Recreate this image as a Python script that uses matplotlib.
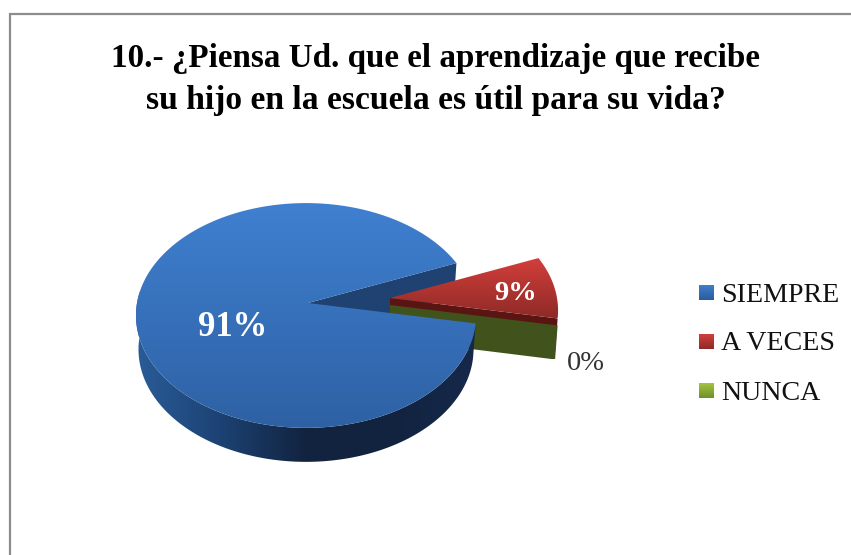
import numpy as np
import matplotlib
matplotlib.use("Agg")
import matplotlib.pyplot as plt
from matplotlib.colors import LinearSegmentedColormap
from matplotlib.patches import Polygon

plt.rcParams["font.family"] = ["Liberation Serif", "DejaVu Serif"]

title = "10.- ¿Piensa Ud. que el aprendizaje que recibe\nsu hijo en la escuela es útil para su vida?"
categories = ["SIEMPRE", "A VECES", "NUNCA"]
values = [91, 9, 0]

# pie geometry, in pixels of the 851x555 picture
ex, cy = 306, 303  # ellipse centre
apex_x = 308
rx, ry, persp = 169, 111, 0.111
depth, shrink = 34, 0.985
first_angle = 100.4
explode_red = (82, -5)
explode_green = (82, 2)

fig = plt.figure(figsize=(8.51, 5.55), dpi=100)
ax = fig.add_axes([0, 0, 1, 1])
ax.set_xlim(0, 851)
ax.set_ylim(555, 0)
ax.axis("off")


def rim(theta, off=(0, 0), drop=False):
    # perspective projection of a point on the pie rim, theta clockwise from top
    t = np.radians(theta)
    u, v = np.sin(t), np.cos(t)
    w = 1 + persp * v
    x, y = rx * u / w, -ry * v / w
    if drop:
        return ex + off[0] + x * shrink, cy + off[1] + y + depth
    return ex + off[0] + x, cy + off[1] + y


def arc(a0, a1, off=(0, 0), drop=False):
    th = np.linspace(a0, a1, 200)
    x, y = rim(th, off, drop)
    return np.column_stack([x, y])


def fill(pts, colors, horizontal=False):
    # polygon filled with a linear gradient
    pts = np.asarray(pts)
    cmap = LinearSegmentedColormap.from_list("g", colors)
    grad = np.linspace(0, 1, 256)
    grad = grad[None, :] if horizontal else grad[:, None]
    ext = (pts[:, 0].min(), pts[:, 0].max(), pts[:, 1].max(), pts[:, 1].min())
    patch = Polygon(pts, closed=True, transform=ax.transData, fc="none", ec="none")
    ax.add_patch(patch)
    im = ax.imshow(grad, extent=ext, cmap=cmap, aspect="auto", origin="upper", interpolation="bilinear")
    im.set_clip_path(patch)


# angles of the slices come from the values
spans = [v / sum(values) * 360 for v in values]
blue0 = first_angle
blue1 = blue0 + spans[0]
red0 = blue1 - 360
red1 = red0 + spans[1]
green_a = red1 + spans[2]

apex = np.array([[apex_x, cy]])
apex_drop = apex + [0, depth]

# inner wall of the blue slice
p = np.array(rim(red0))
fill([apex[0], p, np.array(rim(red0, drop=True)), apex_drop[0]], ["#1f4272", "#1f4272"])

# red inner wall
r_ap = apex[0] + explode_red
p = np.array(rim(red1, explode_red))
fill([r_ap, p, np.array(rim(red1, explode_red, True)), r_ap + [0, depth]], ["#5a1512", "#5a1512"])

# green wall (zero width slice)
g_ap = apex[0] + explode_green
p = np.array(rim(green_a, explode_green))
fill([g_ap, p, np.array(rim(green_a, explode_green, True)), g_ap + [0, depth]], ["#41531c", "#41531c"])

# red top
fill(np.vstack([[r_ap], arc(red0, red1, explode_red)]), ["#d43f3b", "#8e2a27"])

# blue outer wall
top_edge = arc(blue0, 276)
low_edge = arc(blue0, 276, drop=True)[::-1]
fill(np.vstack([top_edge, low_edge]), ["#2a5c98", "#1c4273", "#12233f", "#12233f", "#16294b"], horizontal=True)

# blue top
fill(np.vstack([apex, arc(blue0, blue1)]), ["#3f80d0", "#2e61a4"])

# labels
ax.text(233, 328, f"{values[0]}%", color="white", fontsize=25, fontweight="bold", ha="center", va="center")
ax.text(515.5, 293, f"{values[1]}%", color="white", fontsize=20.5, fontweight="bold", ha="center", va="center")
ax.text(586, 364, f"{values[2]}%", color="#333333", fontsize=20.5, ha="center", va="center")

# legend
leg_colors = [["#3f7fcc", "#2b5c9c"], ["#d0403c", "#8e2a27"], ["#a4c440", "#6f8f2a"]]
for name, cols, y, base in zip(categories, leg_colors, [292.5, 341.5, 390.5], [302.5, 350.5, 400]):
    fill([(699, y - 7.5), (714, y - 7.5), (714, y + 7.5), (699, y + 7.5)], cols)
    ax.text(721, base, name, color="#111111", fontsize=20.2, ha="left", va="baseline")

ax.text(435.5, 66.5, title.split("\n")[0], fontsize=23.9, fontweight="bold", ha="center", va="baseline", color="black")
ax.text(435.5, 109, title.split("\n")[1], fontsize=24.1, fontweight="bold", ha="center", va="baseline", color="black")

# chart border
ax.plot([9.5, 9.5, 851], [555, 13.5, 13.5], color="#8c8c8c", lw=1.6, solid_joinstyle="miter")

ax.set_xlim(0, 851)
ax.set_ylim(555, 0)
fig.savefig("out.png", dpi=100, facecolor="white")
